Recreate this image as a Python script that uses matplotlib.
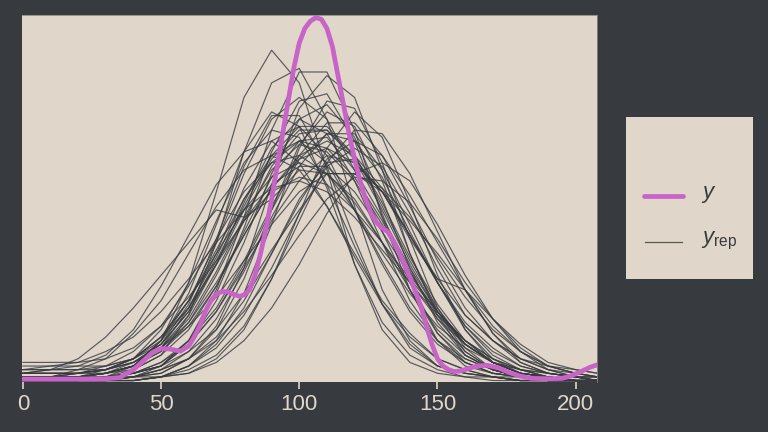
import numpy as np
import matplotlib
matplotlib.use("Agg")
import matplotlib.pyplot as plt

y_x = [0, 10, 20, 30, 35, 40, 43, 47, 50, 53, 57, 60, 62, 64, 66, 68, 70, 72, 74, 76,
       78.5, 80, 82, 84, 86, 88, 90, 92, 94, 96, 98, 100, 102, 104, 106, 108, 110,
       112, 114, 116, 118, 120, 122, 124, 126, 128, 130, 132, 134, 136, 138, 140,
       142, 144, 146, 148, 150, 152, 154, 156, 158, 160, 164, 168, 172, 176, 180,
       184, 190, 195, 198, 202, 205, 208]
y_dens = [0.004, 0.004, 0.004, 0.005, 0.008, 0.03, 0.05, 0.078, 0.088, 0.087, 0.081,
          0.095, 0.12, 0.15, 0.19, 0.22, 0.238, 0.245, 0.245, 0.238, 0.232, 0.236,
          0.25, 0.29, 0.35, 0.42, 0.50, 0.59, 0.68, 0.77, 0.86, 0.93, 0.97, 0.99,
          1.0, 0.995, 0.97, 0.92, 0.84, 0.76, 0.68, 0.61, 0.55, 0.50, 0.46, 0.435,
          0.42, 0.41, 0.385, 0.355, 0.32, 0.285, 0.245, 0.205, 0.15, 0.10, 0.06,
          0.04, 0.03, 0.025, 0.026, 0.03, 0.04, 0.042, 0.035, 0.022, 0.012, 0.006,
          0.005, 0.006, 0.012, 0.025, 0.036, 0.044]

# replicated densities, each sampled on the same grid
rep_x = [0, 10, 20, 30, 40, 50, 60, 70, 80, 90, 100, 110, 120, 130, 140, 150, 160,
         170, 180, 190, 200, 208]
yrep_dens = [
    [0.01, 0.01, 0.01, 0.02, 0.04, 0.11, 0.27, 0.52, 0.78, 0.91, 0.82, 0.58, 0.32, 0.14, 0.05, 0.02, 0.01, 0.01, 0.0, 0.0, 0.0, 0.0],
    [0.02, 0.02, 0.02, 0.02, 0.03, 0.07, 0.18, 0.38, 0.63, 0.82, 0.86, 0.72, 0.48, 0.25, 0.11, 0.04, 0.02, 0.01, 0.01, 0.0, 0.0, 0.0],
    [0.0, 0.0, 0.0, 0.01, 0.02, 0.04, 0.11, 0.25, 0.45, 0.69, 0.85, 0.85, 0.69, 0.45, 0.25, 0.11, 0.04, 0.02, 0.01, 0.01, 0.0, 0.0],
    [0.01, 0.01, 0.01, 0.01, 0.01, 0.02, 0.06, 0.15, 0.31, 0.54, 0.75, 0.84, 0.78, 0.58, 0.35, 0.18, 0.07, 0.03, 0.01, 0.01, 0.0, 0.0],
    [0.0, 0.0, 0.0, 0.0, 0.01, 0.01, 0.03, 0.07, 0.15, 0.28, 0.44, 0.60, 0.69, 0.68, 0.57, 0.41, 0.25, 0.13, 0.06, 0.03, 0.01, 0.01],
    [0.01, 0.01, 0.01, 0.02, 0.04, 0.11, 0.22, 0.38, 0.57, 0.72, 0.78, 0.72, 0.58, 0.41, 0.25, 0.13, 0.06, 0.03, 0.01, 0.01, 0.0, 0.0],
    [0.0, 0.0, 0.0, 0.01, 0.02, 0.05, 0.11, 0.20, 0.33, 0.48, 0.62, 0.71, 0.71, 0.62, 0.48, 0.33, 0.20, 0.11, 0.05, 0.02, 0.01, 0.0],
    [0.03, 0.03, 0.03, 0.03, 0.05, 0.10, 0.21, 0.39, 0.59, 0.73, 0.73, 0.59, 0.39, 0.21, 0.09, 0.04, 0.02, 0.01, 0.0, 0.0, 0.0, 0.0],
    [0.0, 0.0, 0.01, 0.02, 0.04, 0.09, 0.16, 0.27, 0.40, 0.53, 0.62, 0.66, 0.62, 0.53, 0.40, 0.27, 0.16, 0.09, 0.04, 0.02, 0.01, 0.0],
    [0.0, 0.0, 0.0, 0.0, 0.0, 0.01, 0.04, 0.09, 0.18, 0.31, 0.46, 0.59, 0.64, 0.59, 0.46, 0.31, 0.18, 0.11, 0.06, 0.03, 0.02, 0.01],
    [0.04, 0.04, 0.04, 0.04, 0.06, 0.10, 0.19, 0.32, 0.47, 0.61, 0.69, 0.69, 0.61, 0.47, 0.32, 0.19, 0.10, 0.05, 0.02, 0.01, 0.0, 0.0],
    [0.01, 0.01, 0.03, 0.06, 0.13, 0.22, 0.35, 0.48, 0.58, 0.62, 0.58, 0.48, 0.35, 0.22, 0.13, 0.06, 0.03, 0.01, 0.0, 0.0, 0.0, 0.0],
    [0.02, 0.03, 0.06, 0.12, 0.20, 0.29, 0.38, 0.47, 0.45, 0.50, 0.58, 0.57, 0.50, 0.38, 0.25, 0.14, 0.07, 0.03, 0.01, 0.0, 0.0, 0.0],
    [0.0, 0.0, 0.0, 0.01, 0.02, 0.04, 0.08, 0.14, 0.24, 0.36, 0.47, 0.57, 0.57, 0.53, 0.45, 0.34, 0.23, 0.14, 0.08, 0.04, 0.02, 0.01],
    [0.02, 0.02, 0.02, 0.03, 0.06, 0.12, 0.22, 0.36, 0.50, 0.60, 0.66, 0.64, 0.56, 0.44, 0.30, 0.17, 0.08, 0.03, 0.01, 0.0, 0.0, 0.0],
    [0.0, 0.0, 0.0, 0.01, 0.02, 0.04, 0.10, 0.22, 0.38, 0.57, 0.72, 0.76, 0.67, 0.50, 0.31, 0.16, 0.07, 0.03, 0.01, 0.01, 0.0, 0.0],
    [0.0, 0.0, 0.0, 0.01, 0.02, 0.04, 0.10, 0.19, 0.32, 0.47, 0.61, 0.68, 0.66, 0.56, 0.41, 0.27, 0.15, 0.07, 0.03, 0.01, 0.0, 0.0],
    [0.01, 0.01, 0.01, 0.01, 0.04, 0.09, 0.20, 0.35, 0.53, 0.66, 0.70, 0.62, 0.47, 0.33, 0.20, 0.11, 0.06, 0.03, 0.01, 0.0, 0.0, 0.0],
    [0.01, 0.01, 0.01, 0.03, 0.06, 0.12, 0.20, 0.32, 0.44, 0.54, 0.59, 0.59, 0.52, 0.41, 0.29, 0.19, 0.11, 0.05, 0.02, 0.01, 0.0, 0.0],
    [0.0, 0.0, 0.0, 0.0, 0.0, 0.01, 0.04, 0.10, 0.20, 0.35, 0.50, 0.60, 0.61, 0.52, 0.39, 0.28, 0.25, 0.13, 0.05, 0.02, 0.01, 0.0],
    [0.02, 0.02, 0.02, 0.03, 0.06, 0.14, 0.27, 0.44, 0.60, 0.69, 0.67, 0.54, 0.37, 0.21, 0.10, 0.04, 0.02, 0.01, 0.0, 0.0, 0.0, 0.0],
    [0.0, 0.0, 0.01, 0.02, 0.04, 0.08, 0.15, 0.26, 0.40, 0.53, 0.61, 0.64, 0.60, 0.52, 0.40, 0.27, 0.15, 0.08, 0.04, 0.02, 0.01, 0.0],
    [0.0, 0.0, 0.0, 0.01, 0.01, 0.03, 0.06, 0.11, 0.19, 0.29, 0.40, 0.50, 0.56, 0.55, 0.49, 0.39, 0.27, 0.17, 0.09, 0.04, 0.02, 0.01],
    [0.05, 0.05, 0.05, 0.06, 0.09, 0.15, 0.23, 0.33, 0.44, 0.52, 0.56, 0.54, 0.47, 0.38, 0.28, 0.19, 0.11, 0.06, 0.03, 0.01, 0.0, 0.0],
    [0.0, 0.0, 0.0, 0.0, 0.01, 0.02, 0.06, 0.14, 0.28, 0.47, 0.65, 0.74, 0.70, 0.55, 0.35, 0.19, 0.08, 0.03, 0.01, 0.0, 0.0, 0.0],
    [0.01, 0.01, 0.02, 0.04, 0.08, 0.15, 0.26, 0.39, 0.52, 0.60, 0.62, 0.57, 0.47, 0.35, 0.24, 0.15, 0.09, 0.05, 0.03, 0.02, 0.01, 0.01],
    [0.0, 0.0, 0.0, 0.0, 0.01, 0.04, 0.11, 0.24, 0.42, 0.63, 0.77, 0.79, 0.66, 0.46, 0.27, 0.13, 0.05, 0.02, 0.01, 0.0, 0.0, 0.0],
    [0.0, 0.0, 0.0, 0.0, 0.01, 0.03, 0.06, 0.12, 0.22, 0.35, 0.49, 0.61, 0.66, 0.62, 0.51, 0.38, 0.25, 0.15, 0.08, 0.04, 0.02, 0.01],
    [0.03, 0.03, 0.03, 0.04, 0.06, 0.11, 0.20, 0.34, 0.50, 0.62, 0.66, 0.60, 0.47, 0.32, 0.19, 0.10, 0.05, 0.02, 0.01, 0.0, 0.0, 0.0],
    [0.01, 0.01, 0.02, 0.03, 0.05, 0.09, 0.15, 0.23, 0.33, 0.43, 0.52, 0.57, 0.57, 0.52, 0.44, 0.35, 0.25, 0.17, 0.10, 0.05, 0.03, 0.02],
    [0.02, 0.03, 0.04, 0.07, 0.14, 0.26, 0.40, 0.54, 0.63, 0.66, 0.60, 0.48, 0.34, 0.21, 0.12, 0.06, 0.03, 0.01, 0.0, 0.0, 0.0, 0.0],
    [0.0, 0.0, 0.0, 0.0, 0.0, 0.01, 0.04, 0.11, 0.24, 0.43, 0.64, 0.77, 0.75, 0.60, 0.39, 0.20, 0.09, 0.03, 0.01, 0.0, 0.0, 0.0],
    [0.01, 0.01, 0.02, 0.03, 0.06, 0.12, 0.22, 0.35, 0.47, 0.56, 0.60, 0.57, 0.49, 0.38, 0.27, 0.17, 0.10, 0.05, 0.02, 0.01, 0.0, 0.0],
    [0.0, 0.0, 0.0, 0.0, 0.0, 0.01, 0.02, 0.05, 0.11, 0.20, 0.32, 0.46, 0.57, 0.60, 0.55, 0.43, 0.29, 0.17, 0.08, 0.03, 0.01, 0.0],
    [0.01, 0.01, 0.01, 0.02, 0.04, 0.08, 0.16, 0.29, 0.44, 0.59, 0.68, 0.69, 0.62, 0.49, 0.34, 0.21, 0.11, 0.05, 0.02, 0.01, 0.0, 0.0],
    [0.01, 0.01, 0.01, 0.02, 0.04, 0.11, 0.24, 0.43, 0.63, 0.74, 0.70, 0.53, 0.32, 0.16, 0.07, 0.03, 0.01, 0.0, 0.0, 0.0, 0.0, 0.0],
    [0.0, 0.0, 0.0, 0.0, 0.0, 0.01, 0.02, 0.06, 0.14, 0.28, 0.46, 0.64, 0.74, 0.67, 0.49, 0.29, 0.14, 0.05, 0.02, 0.01, 0.0, 0.0],
    [0.0, 0.01, 0.01, 0.02, 0.04, 0.09, 0.18, 0.32, 0.49, 0.64, 0.72, 0.68, 0.55, 0.38, 0.22, 0.11, 0.05, 0.02, 0.01, 0.0, 0.0, 0.0],
    [0.0, 0.0, 0.0, 0.01, 0.02, 0.05, 0.10, 0.19, 0.31, 0.44, 0.55, 0.62, 0.60, 0.52, 0.40, 0.28, 0.18, 0.11, 0.06, 0.04, 0.03, 0.02],
    [0.03, 0.04, 0.05, 0.08, 0.12, 0.19, 0.28, 0.38, 0.47, 0.53, 0.55, 0.52, 0.45, 0.36, 0.27, 0.18, 0.11, 0.06, 0.03, 0.01, 0.0, 0.0],
    [0.01, 0.01, 0.01, 0.02, 0.05, 0.10, 0.19, 0.33, 0.48, 0.62, 0.70, 0.70, 0.62, 0.48, 0.33, 0.20, 0.10, 0.05, 0.02, 0.01, 0.0, 0.0],
    [0.0, 0.0, 0.0, 0.01, 0.03, 0.07, 0.14, 0.26, 0.41, 0.56, 0.66, 0.67, 0.58, 0.45, 0.31, 0.19, 0.10, 0.05, 0.02, 0.01, 0.0, 0.0],
    [0.02, 0.02, 0.02, 0.03, 0.05, 0.09, 0.17, 0.30, 0.45, 0.58, 0.65, 0.63, 0.55, 0.43, 0.30, 0.18, 0.10, 0.05, 0.03, 0.02, 0.01, 0.01],
    [0.0, 0.0, 0.0, 0.0, 0.01, 0.03, 0.08, 0.17, 0.30, 0.45, 0.59, 0.68, 0.68, 0.58, 0.43, 0.27, 0.14, 0.06, 0.02, 0.01, 0.0, 0.0],
]

x_ticks = [0, 50, 100, 150, 200]

BG = "#373a3f"
PANEL = "#e0d6ca"
MAGENTA = "#c864c8"
LIGHT = "#e0d6ca"

plt.rcParams["font.family"] = ["Liberation Sans", "DejaVu Sans"]
plt.rcParams["mathtext.fontset"] = "custom"
plt.rcParams["mathtext.it"] = "Liberation Sans:italic"
plt.rcParams["mathtext.rm"] = "Liberation Sans"

fig = plt.figure(figsize=(7.68, 4.32), dpi=100, facecolor=BG)
ax = fig.add_axes([22 / 768, 50 / 432, 575 / 768, 367 / 432])
ax.set_facecolor(PANEL)

for dens in yrep_dens:
    ax.plot(rep_x, dens, color=BG, lw=0.85, alpha=0.8, solid_joinstyle="round")
ax.plot(y_x, y_dens, color=MAGENTA, lw=3.4, solid_capstyle="round", solid_joinstyle="round")

ax.set_xlim(-0.3, 207.7)
ax.set_ylim(-0.004, 1.007)
ax.set_xticks(x_ticks)
ax.set_yticks([])
ax.tick_params(axis="x", colors=LIGHT, labelsize=16, length=5, width=1.2, pad=4)
for side in ["left", "bottom"]:
    ax.spines[side].set_visible(False)
for side in ["top", "right"]:
    ax.spines[side].set_color("#8c8884")
    ax.spines[side].set_linewidth(0.6)

# legend box
lg = fig.add_axes([626 / 768, 153 / 432, 127 / 768, 162 / 432])
lg.set_facecolor(PANEL)
lg.set_xlim(0, 1)
lg.set_ylim(0, 1)
lg.set_xticks([])
lg.set_yticks([])
for s in lg.spines.values():
    s.set_visible(False)
lg.plot([0.14, 0.45], [0.512, 0.512], color=MAGENTA, lw=3.4, solid_capstyle="round")
lg.plot([0.15, 0.44], [0.228, 0.228], color=BG, lw=0.9, alpha=0.8)
lg.text(0.59, 0.52, r"$y$", fontsize=16, color=BG, va="center", ha="left")
lg.text(0.59, 0.235, r"$y_{\mathrm{rep}}$", fontsize=16, color=BG, va="center", ha="left")

fig.savefig("out.png", dpi=100, facecolor=BG)
